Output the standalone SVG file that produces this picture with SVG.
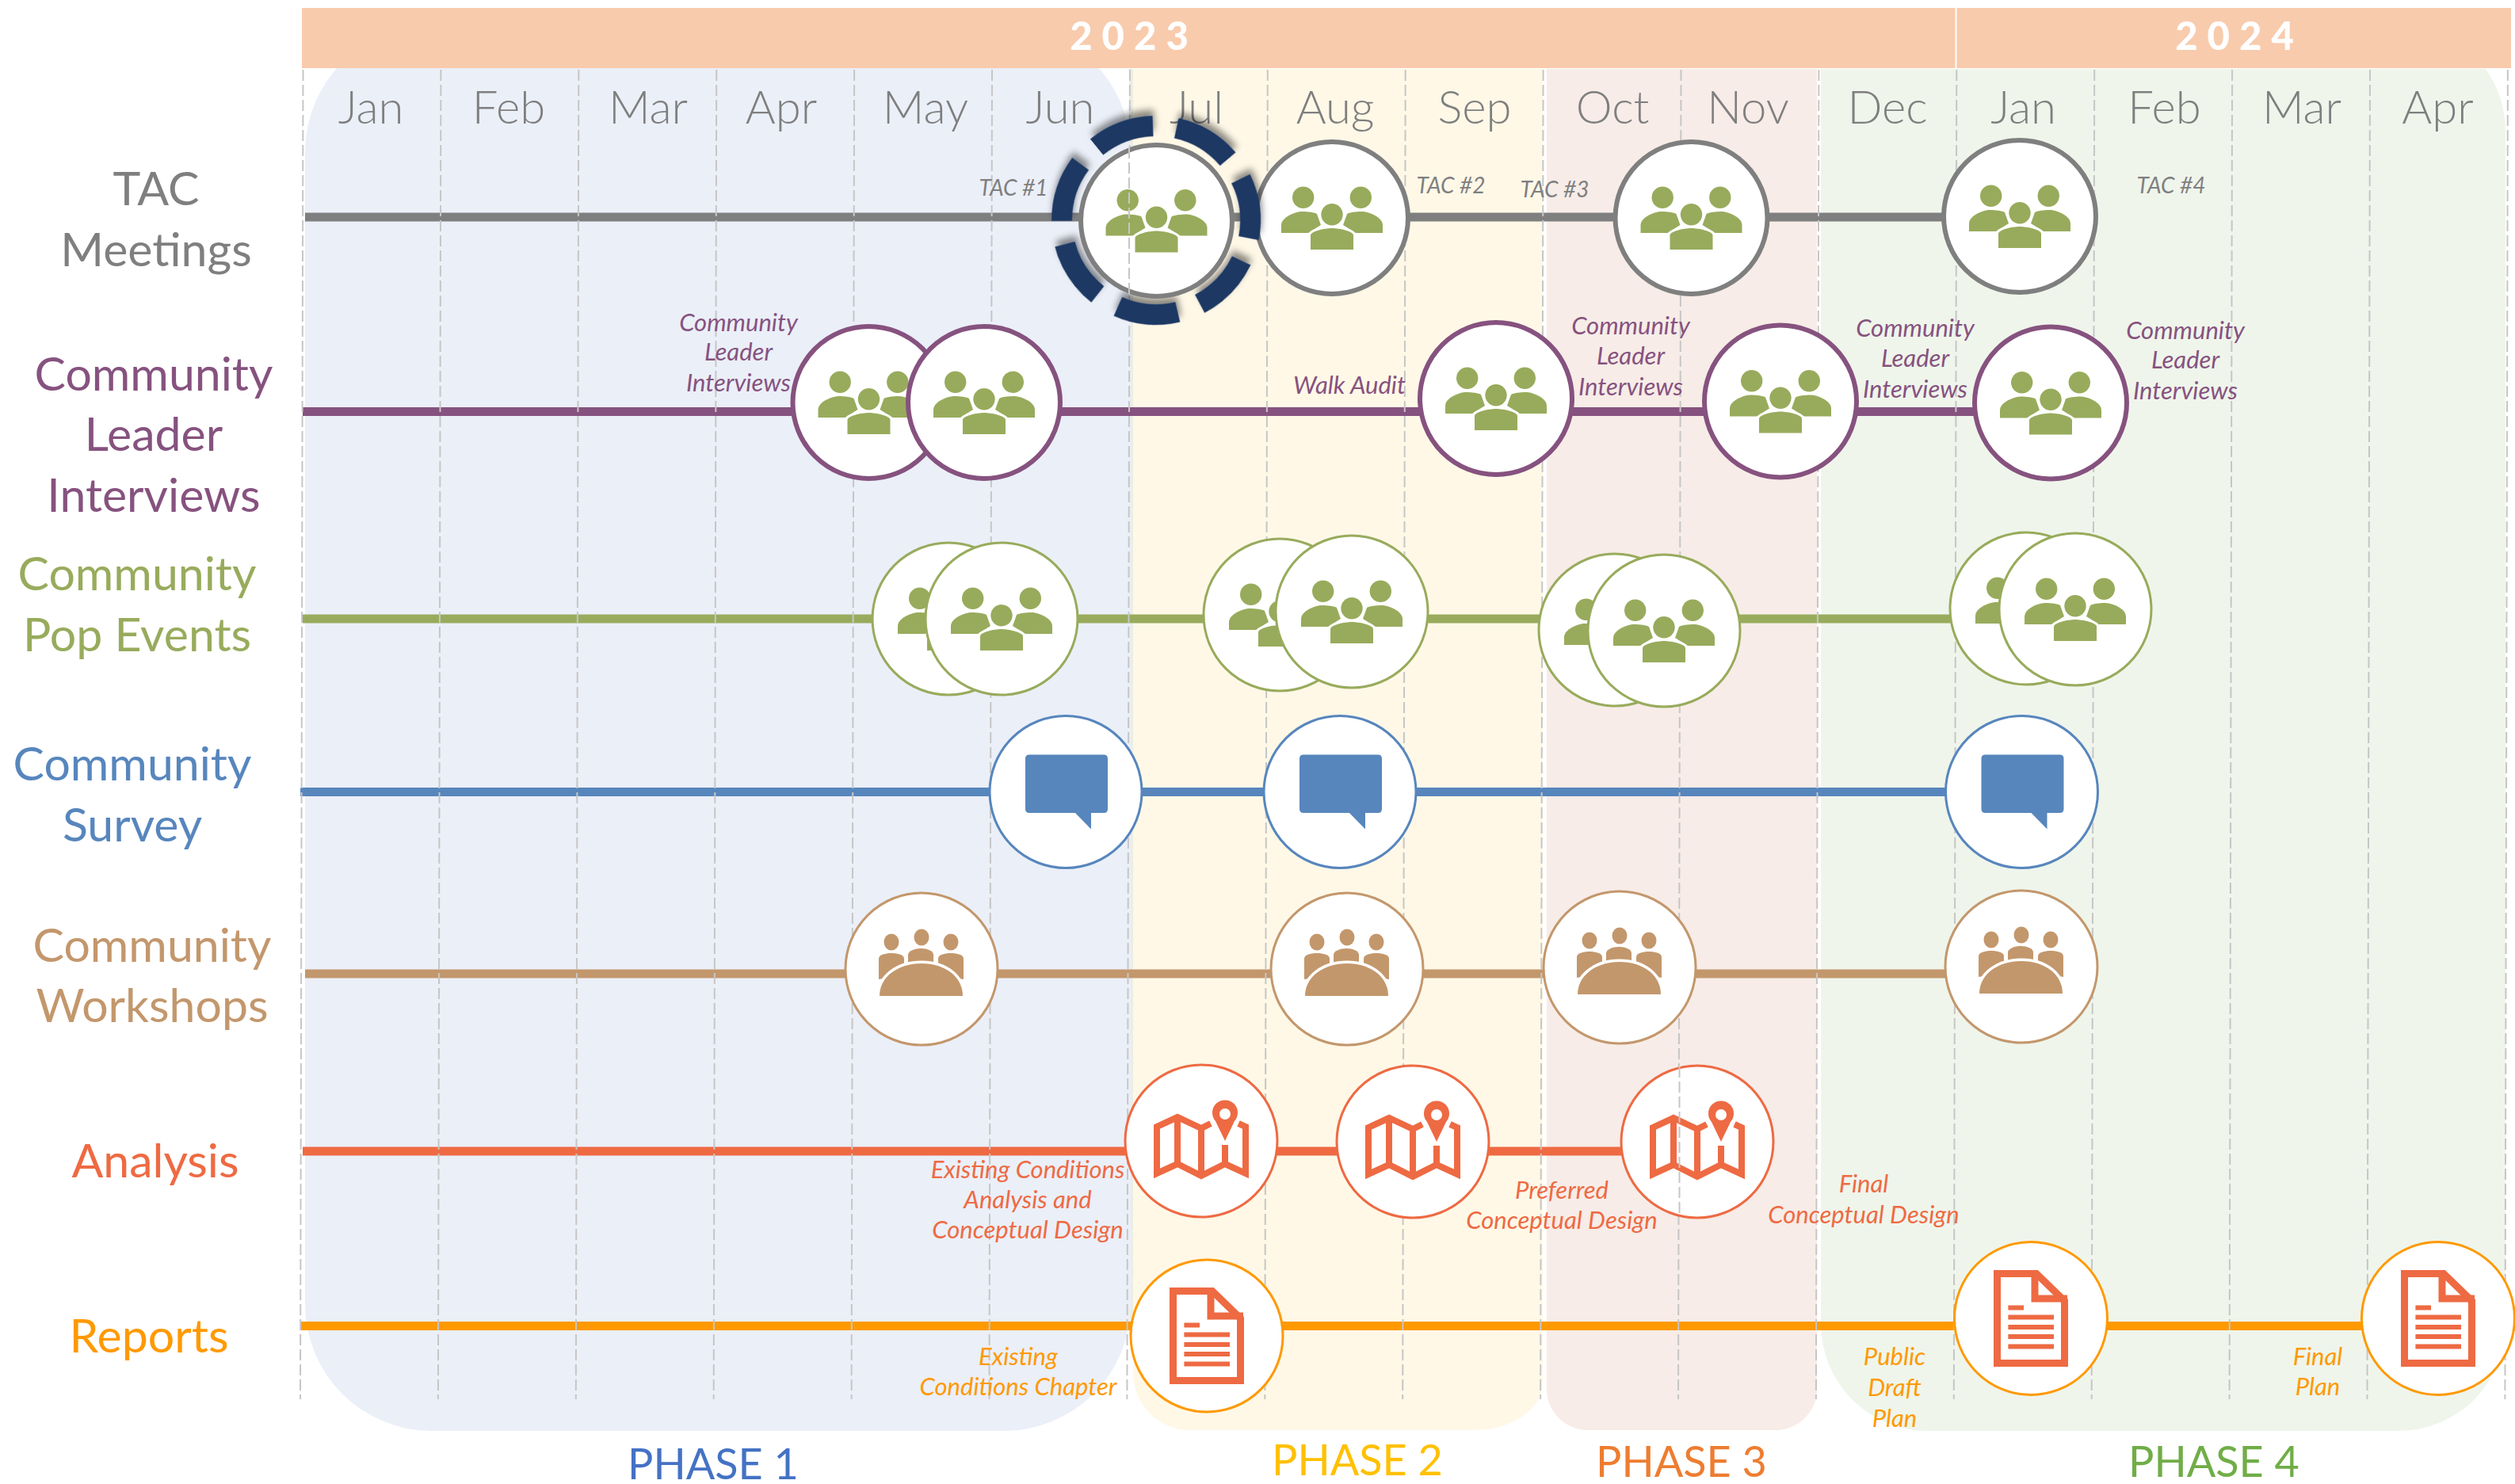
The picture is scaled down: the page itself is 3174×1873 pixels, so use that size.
<svg xmlns="http://www.w3.org/2000/svg" width="3174" height="1873" viewBox="0 0 3174 1873">
<style>
text{font-family:"Lato","Open Sans","Liberation Sans",sans-serif;text-anchor:middle}
.month{font-size:58px;font-weight:300;fill:#7f7f7f}
.year{font-size:49px;font-weight:900;fill:#fff;letter-spacing:12px}
.row{font-size:59px;font-weight:400}
.ph{font-size:54px;font-weight:400}
.n{font-size:31px;font-style:italic}
.t{font-size:28px;font-style:italic}
.grey{fill:#7f7f7f}.pur{fill:#86527f}.grn{fill:#98ab5c}.blu{fill:#5786bd}.tan{fill:#c3976c}.red{fill:#ee6a43}.org{fill:#ff9900}
.grid line{stroke:#c6c6c6;stroke-width:2;stroke-dasharray:14 5}
.conn line{stroke-width:11;fill:none}
.c{fill:#fff}
.cg{stroke:#7f7f7f;stroke-width:6}.cp{stroke:#86527f;stroke-width:6}.cn{stroke:#98ab5c;stroke-width:3}.cb{stroke:#5786bd;stroke-width:3}.ct{stroke:#c3976c;stroke-width:3}.cr{stroke:#ee6a43;stroke-width:3}.co{stroke:#ff9900;stroke-width:3}
</style>
<defs>
<filter id="sh" x="-20%" y="-20%" width="140%" height="140%"><feDropShadow dx="5" dy="6" stdDeviation="4" flood-color="#000" flood-opacity="0.45"/></filter>
<g id="people">
<g fill="#98ab5c">
<circle cx="-36.3" cy="-25.7" r="13.7"/><circle cx="36.3" cy="-25.7" r="13.7"/>
<path d="M-64 19V9C-64 -1 -46 -8 -38 -8C-30 -8 -22 -7 -19 -5L-14 9L-30 19Z"/>
<path d="M64 19V9C64 -1 46 -8 38 -8C30 -8 22 -7 19 -5L14 9L30 19Z"/>
<g stroke="#fff" stroke-width="6" paint-order="stroke">
<circle cx="0" cy="-4.3" r="13.7"/>
<path d="M-27 40V22C-27 17 -10 13 0 13C10 13 27 17 27 22V40Z"/>
</g>
</g>
</g>
<g id="workshop">
<g fill="#c3976c">
<ellipse cx="-38" cy="-34" rx="9.500" ry="10.500"/><ellipse cx="0" cy="-40" rx="9.500" ry="10.500"/><ellipse cx="37" cy="-34" rx="9.500" ry="10.500"/>
<path d="M-54 13V-13C-54 -18 -46 -20 -38 -20C-30 -20 -22 -18 -22 -13V8Z"/>
<path d="M-17 -4V-18C-17 -23 -8 -26 -1 -26C7 -26 15 -23 15 -18V-4Z"/>
<path d="M53 13V-13C53 -18 45 -20 37 -20C29 -20 21 -18 21 -13V8Z"/>
<path stroke="#fff" stroke-width="7" paint-order="stroke" d="M-53 34C-53 10 -30 -7 0 -7C30 -7 52 10 52 34Z"/>
</g>
</g>
<g id="bubble"><path fill="#5786bd" d="M-46 -47H48Q53 -47 53 -42V21.500Q53 26.500 48 26.500H32V47L12 26.500H-46Q-51 26.500 -51 21.500V-42Q-51 -47 -46 -47Z"/></g>
<g id="map">
<path fill="none" stroke="#ee6a43" stroke-width="8" d="M12 -22L0 -16L-30 -30L-56 -18V41L-30 29L0 44L30 29L56 41V-18L47 -22M-30 -30V29M0 -16V44M30 5V29"/>
<path fill="#ee6a43" fill-rule="evenodd" d="M30 0L18 -25A16 16 0 1 1 42 -25ZM30 -41A7 7 0 1 0 30 -27A7 7 0 1 0 30 -41Z"/>
</g>
<g id="doc">
<g fill="none" stroke="#ee6a43">
<path stroke-width="9" d="M-42.500 -56.500H7L42.500 -22V56.500H-42.500Z"/>
<path stroke-width="9" d="M5 -60V-25H46"/>
<path stroke-width="6" d="M-28.600 -13.400H-9M-28.600 -1.500H29M-28.600 11H29M-28.600 23H29M-28.600 35.600H29"/>
</g>
</g>
</defs>

<g id="phases">
<rect x="1425" y="87" width="8" height="1600" fill="#eceee2"/>
<path fill="#fff8e7" d="M1430 87H1947V1745A87 60 0 0 1 1860 1805H1500A72 72 0 0 1 1430 1735Z"/>
<path fill="#f7ece7" d="M1952 87H2293V1752A52 52 0 0 1 2241 1805H2004A52 52 0 0 1 1952 1752Z"/>
<path fill="#eff5eb" d="M2298 87H3137A140 140 0 0 1 3162 167V1671A135 135 0 0 1 3027 1806H2433A135 135 0 0 1 2298 1671Z"/>
<rect id="phase1bg" x="385" y="32" width="1042" height="1774" rx="160" ry="160" fill="#ebeff8"/>
</g>

<g id="header">
<rect x="381" y="10" width="2086.500" height="76" fill="#f8cbad"/>
<rect x="2469.500" y="10" width="699.500" height="76" fill="#f8cbad"/>
<text class="year" x="1431" y="63">2023</text>
<text class="year" x="2826" y="63">2024</text>
<text class="month" x="468" y="156">Jan</text><text class="month" x="642" y="156">Feb</text><text class="month" x="818" y="156">Mar</text><text class="month" x="986" y="156">Apr</text><text class="month" x="1168" y="156">May</text><text class="month" x="1338" y="156">Jun</text><text class="month" x="1510" y="156">Jul</text><text class="month" x="1685" y="156">Aug</text><text class="month" x="1861" y="156">Sep</text><text class="month" x="2035" y="156">Oct</text><text class="month" x="2206" y="156">Nov</text><text class="month" x="2382" y="156">Dec</text><text class="month" x="2553.500" y="156">Jan</text><text class="month" x="2731.500" y="156">Feb</text><text class="month" x="2905" y="156">Mar</text><text class="month" x="3076.500" y="156">Apr</text>
</g>

<g id="connectors" class="conn">
<line x1="385" y1="274" x2="2549" y2="274" stroke="#7f7f7f"/>
<line x1="382" y1="519.500" x2="2588" y2="519.500" stroke="#86527f"/>
<line x1="382" y1="781" x2="2619" y2="781" stroke="#98ab5c"/>
<line x1="379" y1="999.500" x2="2551" y2="999.500" stroke="#5786bd"/>
<line x1="385" y1="1229" x2="2551" y2="1229" stroke="#c3976c"/>
<line x1="382" y1="1453" x2="2142" y2="1453" stroke="#ee6a43"/>
<line x1="379" y1="1673.500" x2="3077" y2="1673.500" stroke="#ff9900"/>
</g>

<g id="grid" class="grid">
<line x1="382.500" y1="88" x2="379" y2="1766"/><line x1="556.400" y1="88" x2="552.900" y2="1766"/><line x1="730.300" y1="88" x2="726.800" y2="1766"/><line x1="904.200" y1="88" x2="900.700" y2="1766"/><line x1="1078.100" y1="88" x2="1074.600" y2="1766"/><line x1="1252" y1="88" x2="1248.500" y2="1766"/><line x1="1425.900" y1="88" x2="1422.400" y2="1766"/><line x1="1599.800" y1="88" x2="1596.300" y2="1766"/><line x1="1773.700" y1="88" x2="1770.200" y2="1766"/><line x1="1947.600" y1="88" x2="1944.100" y2="1766"/><line x1="2121.500" y1="88" x2="2118" y2="1766"/><line x1="2295.400" y1="88" x2="2291.900" y2="1766"/><line x1="2469.300" y1="88" x2="2465.800" y2="1766"/><line x1="2643.200" y1="88" x2="2639.700" y2="1766"/><line x1="2817.100" y1="88" x2="2813.600" y2="1766"/><line x1="2991" y1="88" x2="2987.500" y2="1766"/><line x1="3164.900" y1="88" x2="3161.400" y2="1766"/>
</g>

<g id="row-labels">
<text class="row grey" x="197" y="259">TAC</text><text class="row grey" x="197" y="336">Meetings</text>
<text class="row pur" x="194" y="493">Community</text><text class="row pur" x="194" y="569">Leader</text><text class="row pur" x="194" y="646">Interviews</text>
<text class="row grn" x="173" y="745">Community</text><text class="row grn" x="173" y="822">Pop Events</text>
<text class="row blu" x="167" y="985">Community</text><text class="row blu" x="167" y="1062">Survey</text>
<text class="row tan" x="192" y="1214">Community</text><text class="row tan" x="192" y="1290">Workshops</text>
<text class="row red" x="196" y="1486">Analysis</text>
<text class="row org" x="188" y="1707">Reports</text>
</g>

<g id="notes">
<text class="t grey" x="1279" y="247">TAC #1</text><text class="t grey" x="1831" y="244">TAC #2</text><text class="t grey" x="1962" y="249">TAC #3</text><text class="t grey" x="2740" y="244">TAC #4</text>
<text class="n pur" x="932" y="418">Community</text><text class="n pur" x="932" y="455">Leader</text><text class="n pur" x="932" y="494">Interviews</text>
<text class="n pur" x="1703" y="497">Walk Audit</text>
<text class="n pur" x="2058" y="422">Community</text><text class="n pur" x="2058" y="460">Leader</text><text class="n pur" x="2058" y="499">Interviews</text>
<text class="n pur" x="2417" y="424.500">Community</text><text class="n pur" x="2417" y="463">Leader</text><text class="n pur" x="2417" y="501.500">Interviews</text>
<text class="n pur" x="2758" y="427.500">Community</text><text class="n pur" x="2758" y="465">Leader</text><text class="n pur" x="2758" y="504">Interviews</text>
<text class="n red" x="1297" y="1487">Existing Conditions</text><text class="n red" x="1297" y="1525">Analysis and</text><text class="n red" x="1297" y="1563">Conceptual Design</text>
<text class="n red" x="1971" y="1513">Preferred</text><text class="n red" x="1971" y="1551">Conceptual Design</text>
<text class="n red" x="2352" y="1505">Final</text><text class="n red" x="2352" y="1544">Conceptual Design</text>
<text class="n org" x="1285" y="1723">Existing</text><text class="n org" x="1285" y="1761">Conditions Chapter</text>
<text class="n org" x="2391" y="1723">Public</text><text class="n org" x="2391" y="1762">Draft</text><text class="n org" x="2391" y="1801">Plan</text>
<text class="n org" x="2925" y="1723">Final</text><text class="n org" x="2925" y="1761">Plan</text>
</g>

<g id="phase-labels">
<text class="ph" x="900" y="1867" fill="#4472c4">PHASE 1</text>
<text class="ph" x="1713" y="1862" fill="#ffc000">PHASE 2</text>
<text class="ph" x="2122" y="1864" fill="#ed7d31">PHASE 3</text>
<text class="ph" x="2794" y="1864" fill="#70ad47">PHASE 4</text>
</g>

<g id="nodes">
<g id="tac2"><circle class="c cg" cx="1681" cy="275" r="96"/><use href="#people" x="1681" y="275"/></g>
<g id="tac1-ring"><circle cx="1459" cy="278" r="119" fill="none" stroke="#1f3864" stroke-width="26" stroke-dasharray="77 29.800" transform="rotate(-129 1459 278)" filter="url(#sh)"/></g>
<g id="tac1"><circle class="c cg" cx="1459.500" cy="278.500" r="95.500"/><use href="#people" x="1459.500" y="278.500"/><line x1="1425" y1="186" x2="1425" y2="372" stroke="#c6c6c6" stroke-width="2" stroke-dasharray="14 5"/></g>
<g id="tac3"><circle class="c cg" cx="2134.500" cy="275" r="96"/><use href="#people" x="2134.500" y="275"/></g>
<g id="tac4"><circle class="c cg" cx="2549" cy="273" r="96"/><use href="#people" x="2549" y="273"/></g>

<g id="cli1"><circle class="c cp" cx="1096.500" cy="508" r="96"/><use href="#people" x="1096.500" y="508"/></g>
<g id="cli2"><circle class="c cp" cx="1242" cy="508" r="96"/><use href="#people" x="1242" y="508"/></g>
<g id="cli3"><circle class="c cp" cx="1888" cy="503" r="96"/><use href="#people" x="1888" y="503"/></g>
<g id="cli4"><circle class="c cp" cx="2247" cy="506.500" r="96"/><use href="#people" x="2247" y="506.500"/></g>
<g id="cli5"><circle class="c cp" cx="2588" cy="508.500" r="96"/><use href="#people" x="2588" y="508.500"/></g>

<g id="pop1a"><circle class="c cn" cx="1197" cy="781" r="96"/><use href="#people" x="1197" y="781"/></g>
<g id="pop1b"><circle class="c cn" cx="1264" cy="781" r="96"/><use href="#people" x="1264" y="781"/></g>
<g id="pop2a"><circle class="c cn" cx="1615" cy="776" r="96"/><use href="#people" x="1615" y="776"/></g>
<g id="pop2b"><circle class="c cn" cx="1706" cy="772" r="96"/><use href="#people" x="1706" y="772"/></g>
<g id="pop3a"><circle class="c cn" cx="2038" cy="795" r="96"/><use href="#people" x="2038" y="795"/></g>
<g id="pop3b"><circle class="c cn" cx="2100" cy="796" r="96"/><use href="#people" x="2100" y="796"/></g>
<g id="pop4a"><circle class="c cn" cx="2557" cy="768" r="96"/><use href="#people" x="2557" y="768"/></g>
<g id="pop4b"><circle class="c cn" cx="2619" cy="769" r="96"/><use href="#people" x="2619" y="769"/></g>

<g id="sur1"><circle class="c cb" cx="1345" cy="999.500" r="96"/><use href="#bubble" x="1345" y="999.500"/></g>
<g id="sur2"><circle class="c cb" cx="1691" cy="999.500" r="96"/><use href="#bubble" x="1691" y="999.500"/></g>
<g id="sur3"><circle class="c cb" cx="2551.500" cy="999.500" r="96"/><use href="#bubble" x="2551.500" y="999.500"/></g>

<g id="ws1"><circle class="c ct" cx="1163" cy="1223" r="96"/><use href="#workshop" x="1163" y="1223"/></g>
<g id="ws2"><circle class="c ct" cx="1700" cy="1223" r="96"/><use href="#workshop" x="1700" y="1223"/></g>
<g id="ws3"><circle class="c ct" cx="2044" cy="1221" r="96"/><use href="#workshop" x="2044" y="1221"/></g>
<g id="ws4"><circle class="c ct" cx="2551" cy="1220" r="96"/><use href="#workshop" x="2551" y="1220"/></g>

<g id="an1"><circle class="c cr" cx="1516" cy="1440" r="96"/><use href="#map" x="1516" y="1440"/></g>
<g id="an2"><circle class="c cr" cx="1783" cy="1441" r="96"/><use href="#map" x="1783" y="1441"/></g>
<g id="an3"><circle class="c cr" cx="2142" cy="1441" r="96"/><use href="#map" x="2142" y="1441"/><line x1="2119.500" y1="1346" x2="2119.500" y2="1536" stroke="#c6c6c6" stroke-width="2" stroke-dasharray="14 5"/></g>

<g id="rep1"><circle class="c co" cx="1523" cy="1686" r="96"/><use href="#doc" x="1523" y="1686"/></g>
<g id="rep2"><circle class="c co" cx="2563" cy="1664" r="96.500"/><use href="#doc" x="2563" y="1664"/></g>
<g id="rep3"><circle class="c co" cx="3077" cy="1664" r="96.500"/><use href="#doc" x="3077" y="1664"/></g>
</g>
</svg>
